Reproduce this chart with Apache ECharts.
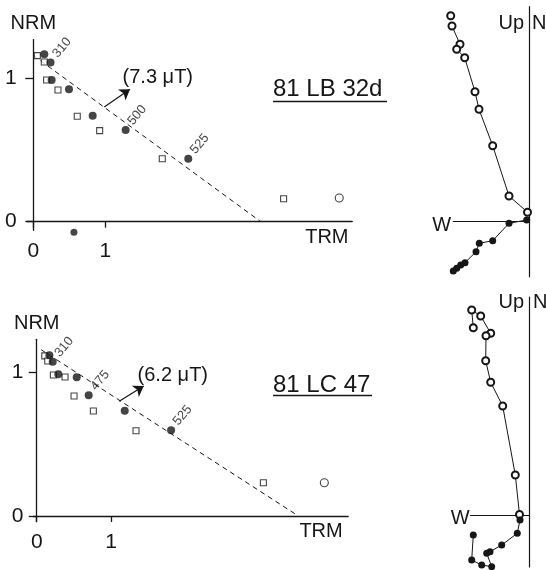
<!DOCTYPE html>
<html>
<head>
<meta charset="utf-8">
<script src="https://cdn.jsdelivr.net/npm/echarts@6/dist/echarts.min.js"></script>
<style>
html,body{margin:0;padding:0;background:#ffffff;}
#chart{width:546px;height:570px;}
</style>
</head>
<body>
<div id="chart"></div>
<script>
// ---------- 81 LB 32d : Arai plot (NRM remaining vs TRM gained) ----------
const lbFilledTRM = [0.153, 0.24, 0.255, 0.496, 0.825, 1.283, 2.153];
const lbFilledNRM = [1.167, 1.11, 0.988, 0.923, 0.739, 0.639, 0.439];
const lbFilledTemps = ['', '310', '', '', '', '500', '525'];
const lbCheckTRM = [0.056, 0.153, 0.185, 0.343, 0.611, 0.922, 1.792, 3.477];
const lbCheckNRM = [1.158, 1.114, 0.988, 0.918, 0.735, 0.635, 0.439, 0.160];
const lbOpenTRM = [4.25];
const lbOpenNRM = [0.165];
const lbStrayTRM = [0.565];
const lbStrayNRM = [-0.074];
const lbFitTRM = [0.0, 3.16];
const lbFitNRM = [1.16, 0.0];
const lbArrowTRM = [0.986, 1.343];
const lbArrowNRM = [0.80, 0.923];
const lbPaleo = '(7.3 μT)';
const lbName = '81 LB 32d';

// ---------- 81 LC 47 : Arai plot ----------
const lcFilledTRM = [0.17, 0.215, 0.29, 0.538, 0.699, 1.184, 1.808];
const lcFilledNRM = [1.121, 1.077, 0.989, 0.968, 0.842, 0.735, 0.598];
const lcFilledTemps = ['', '310', '', '', '475', '', '525'];
const lcCheckTRM = [0.108, 0.148, 0.224, 0.381, 0.502, 0.762, 1.336, 3.05];
const lcCheckNRM = [1.117, 1.082, 0.984, 0.970, 0.837, 0.733, 0.595, 0.232];
const lcOpenTRM = [3.87];
const lcOpenNRM = [0.232];
const lcFitTRM = [0.06, 3.52];
const lcFitNRM = [1.16, 0.0];
const lcArrowTRM = [1.11, 1.44];
const lcArrowNRM = [0.80, 0.907];
const lcPaleo = '(6.2 μT)';
const lcName = '81 LC 47';

// ---------- Zijderveld diagrams (arbitrary units, W negative, Up/N positive) ----------
const lbVertW  = [-78.8, -77.5, -69.5, -72.8, -64.8, -54.5, -50.5, -36.8, -20.5, -2.0];
const lbVertUp = [206.0, 195.7, 177.4, 172.4, 164.0, 130.0, 112.4, 76.0, 25.7, 9.5];
const lbHorW   = [-2.8, -20.5, -36.8, -50.2, -53.5, -64.5, -68.8, -72.8, -76.2];
const lbHorN   = [1.7, -1.6, -19.0, -21.6, -30.0, -41.0, -43.3, -46.6, -49.3];

const lcVertW  = [-55.7, -57.3, -48.3, -38.3, -43.0, -43.3, -38.3, -26.3, -13.7, -9.5];
const lcVertUp = [187.8, 205.5, 199.5, 182.2, 179.8, 154.8, 133.2, 109.5, 40.5, 1.0];
const lcHorW   = [-9.0, -11.7, -27.3, -39.0, -42.3, -37.3, -47.3, -57.3, -55.7];
const lcHorN   = [-4.5, -17.8, -29.5, -36.2, -37.8, -51.2, -49.5, -44.5, -19.5];

const axisTicks = [0, 1];

// ---------- helpers ----------
const INK = '#161616';
const FONT = '"Liberation Sans", Arial, Helvetica, sans-serif';
const pts = (xs, ys) => xs.map((x, i) => [x, ys[i]]);

function araiX(gi, min, max, gapName) {
  return {
    type: 'value', gridIndex: gi, min: min, max: max,
    name: 'TRM', nameLocation: 'end', nameGap: gapName,
    nameTextStyle: {color: INK, fontSize: 20, fontFamily: FONT, align: 'left', verticalAlign: 'top', padding: [6, 0, 0, 0]},
    axisLine: {onZero: true, lineStyle: {color: INK, width: 1.3}},
    axisTick: {show: true, customValues: axisTicks, length: 6, lineStyle: {color: INK, width: 1.3}},
    axisLabel: {customValues: axisTicks, color: INK, fontSize: 21, fontFamily: FONT, margin: 10},
    splitLine: {show: false}
  };
}
function araiY(gi, min, max) {
  return {
    type: 'value', gridIndex: gi, min: min, max: max,
    name: 'NRM', nameLocation: 'end', nameGap: 6,
    nameTextStyle: {color: INK, fontSize: 20, fontFamily: FONT, align: 'center', verticalAlign: 'bottom'},
    axisLine: {onZero: true, lineStyle: {color: INK, width: 1.3}},
    axisTick: {show: true, customValues: axisTicks, length: 8, lineStyle: {color: INK, width: 1.3}},
    axisLabel: {customValues: axisTicks, color: INK, fontSize: 21, fontFamily: FONT, margin: 10},
    splitLine: {show: false}
  };
}
function zijX(gi, min) {
  return {type: 'value', gridIndex: gi, min: min, max: 0,
    axisLine: {onZero: true, lineStyle: {color: INK, width: 1.2}},
    axisTick: {show: false}, axisLabel: {show: false}, splitLine: {show: false}};
}
function zijY(gi, min, max) {
  return {type: 'value', gridIndex: gi, min: min, max: max,
    axisLine: {onZero: true, lineStyle: {color: INK, width: 1.2}},
    axisTick: {show: false}, axisLabel: {show: false}, splitLine: {show: false}};
}

function araiSeries(gi, fTRM, fNRM, temps, cTRM, cNRM, oTRM, oNRM, fitX, fitY, arX, arY) {
  const filled = fTRM.map((x, i) => {
    const d = {value: [x, fNRM[i]]};
    if (temps[i]) d.label = {show: true, formatter: temps[i]};
    return d;
  });
  return [
    {type: 'line', xAxisIndex: gi, yAxisIndex: gi, data: pts(fitX, fitY), symbol: 'none',
     itemStyle: {color: INK},
     lineStyle: {color: INK, width: 1, type: [5, 4]}, z: 1, silent: true,
     markLine: {silent: true, symbol: ['none', 'arrow'], symbolSize: 10,
       itemStyle: {color: INK},
       lineStyle: {color: INK, width: 1.2, type: 'solid'}, label: {show: false},
       data: [[{coord: [arX[0], arY[0]]}, {coord: [arX[1], arY[1]]}]]}},
    {type: 'scatter', xAxisIndex: gi, yAxisIndex: gi, data: pts(cTRM, cNRM), symbol: 'rect', symbolSize: 6,
     itemStyle: {color: '#ffffff', borderColor: INK, borderWidth: 1.1}, z: 3},
    {type: 'scatter', xAxisIndex: gi, yAxisIndex: gi, data: pts(oTRM, oNRM), symbol: 'circle', symbolSize: 8,
     itemStyle: {color: '#ffffff', borderColor: INK, borderWidth: 1.1}, z: 3},
    {type: 'scatter', xAxisIndex: gi, yAxisIndex: gi, data: filled, symbol: 'circle', symbolSize: 8,
     itemStyle: {color: INK}, z: 4,
     label: {show: false, position: [8.5, -2.5], rotate: 50, align: 'left', verticalAlign: 'middle',
       color: INK, fontSize: 13, fontFamily: FONT}}
  ];
}

function zijSeries(gi, vx, vy, hx, hy) {
  return [
    {type: 'line', xAxisIndex: gi, yAxisIndex: gi, data: pts(vx, vy), symbol: 'emptyCircle', symbolSize: 7,
     showAllSymbol: true, clip: false, itemStyle: {color: INK, borderWidth: 1},
     lineStyle: {color: INK, width: 1}, z: 3},
    {type: 'line', xAxisIndex: gi, yAxisIndex: gi, data: pts(hx, hy), symbol: 'circle', symbolSize: 7,
     showAllSymbol: true, clip: false, itemStyle: {color: INK},
     lineStyle: {color: INK, width: 1}, z: 3}
  ];
}

const txt = (x, y, text, size, align) => ({
  type: 'text', x: x, y: y, silent: true,
  style: {text: text, fill: INK, font: size + 'px ' + FONT, textAlign: align || 'center', textVerticalAlign: 'middle'}
});
const uline = (x1, x2, y) => ({type: 'line', silent: true, shape: {x1: x1, y1: y, x2: x2, y2: y},
  style: {stroke: INK, lineWidth: 1.5}});

const chart = echarts.init(document.getElementById('chart'), null, {renderer: 'canvas'});
const option = {
  backgroundColor: '#ffffff',
  animation: false,
  grid: [
    {left: 26.8, top: 39.6, width: 325.4, height: 190.7, outerBoundsMode: 'none'},
    {left: 33.4, top: 339.3, width: 314.7, height: 182.4, outerBoundsMode: 'none'},
    {left: 453.3, top: 6.7, width: 76.2, height: 270, outerBoundsMode: 'none'},
    {left: 470.5, top: 297, width: 58.5, height: 270, outerBoundsMode: 'none'}
  ],
  xAxis: [araiX(0, -0.09, 4.43, -47), araiX(1, -0.045, 4.19, -48.7), zijX(2, -76.2), zijX(3, -58.5)],
  yAxis: [araiY(0, -0.06, 1.27), araiY(1, -0.04, 1.233), zijY(2, -55, 215), zijY(3, -51.5, 218.5)],
  series: [].concat(
    araiSeries(0, lbFilledTRM, lbFilledNRM, lbFilledTemps, lbCheckTRM, lbCheckNRM, lbOpenTRM, lbOpenNRM,
               lbFitTRM, lbFitNRM, lbArrowTRM, lbArrowNRM),
    [{type: 'scatter', xAxisIndex: 0, yAxisIndex: 0, data: pts(lbStrayTRM, lbStrayNRM), symbol: 'circle',
      symbolSize: 7, clip: false, itemStyle: {color: INK}}],
    araiSeries(1, lcFilledTRM, lcFilledNRM, lcFilledTemps, lcCheckTRM, lcCheckNRM, lcOpenTRM, lcOpenNRM,
               lcFitTRM, lcFitNRM, lcArrowTRM, lcArrowNRM),
    zijSeries(2, lbVertW, lbVertUp, lbHorW, lbHorN),
    zijSeries(3, lcVertW, lcVertUp, lcHorW, lcHorN)
  ),
  graphic: [
    txt(157.8, 77, lbPaleo, 20),
    txt(273, 89, lbName, 24, 'left'),
    uline(273, 387, 101.5),
    txt(172.8, 375, lcPaleo, 20),
    txt(273, 385, lcName, 24, 'left'),
    uline(273, 372, 395.5),
    txt(524, 23, 'Up', 20, 'right'),
    txt(532, 23, 'N', 20, 'left'),
    txt(441.7, 225.8, 'W', 20),
    txt(524, 302, 'Up', 20, 'right'),
    txt(533, 302, 'N', 20, 'left'),
    txt(460.3, 518.3, 'W', 20)
  ]
};
chart.setOption(option);
</script>
</body>
</html>
